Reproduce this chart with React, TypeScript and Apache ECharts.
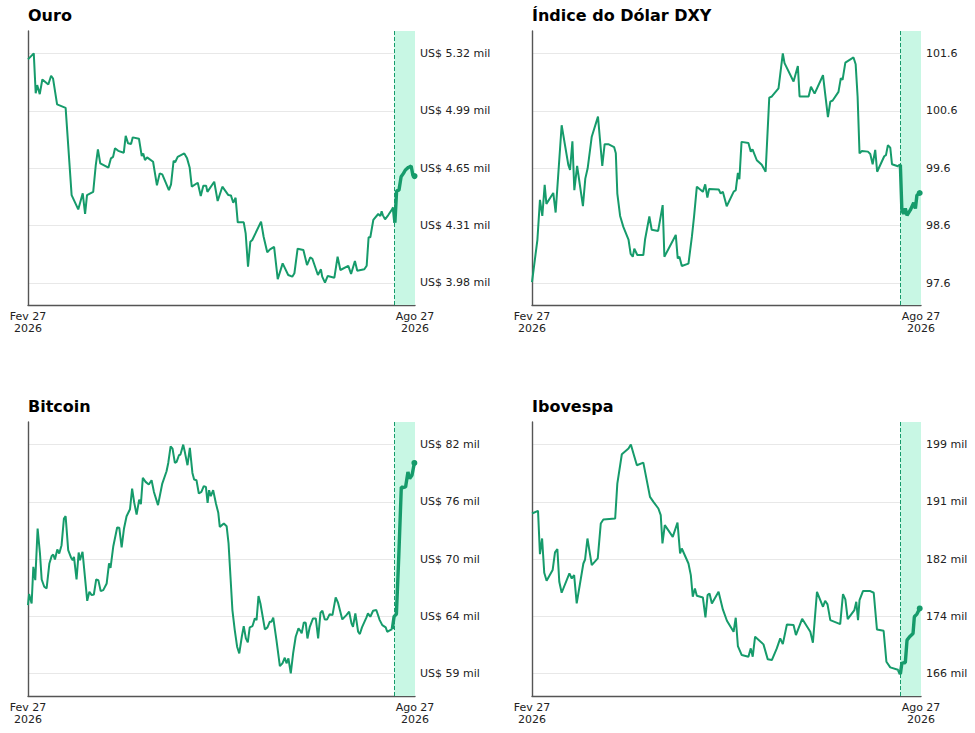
import React, { useEffect, useRef } from "react";
import * as echarts from "echarts";

// ---- shared x axis (days since Fev 27 2026) ----
const xTickDays = [0, 181];
const xTickLabels = ["Fev 27\n2026", "Ago 27\n2026"];
const highlightStartDay = 171.3;
const highlightEndDay = 181;

// ---- Ouro ----
const goldDays = [0,2.7,3.6,4.3,5.5,6.7,9.5,10.8,11.7,13.6,17.6,20.4,23.5,25.6,26.7,27.6,30.5,31.7,32.7,33.8,37.6,38.8,39.8,40.7,42.2,44.8,45.7,46.8,48.2,49.0,51.9,53.2,53.9,54.7,55.7,58.5,60.3,61.6,62.8,65.9,66.9,68.1,68.8,70.0,73.1,74.4,75.6,76.6,79.4,80.8,82.0,83.3,83.9,87.1,88.7,90.9,93.7,94.9,96.0,97.1,98.1,100.9,101.8,102.9,104.0,104.9,109.0,110.2,111.9,113.2,115.1,116.8,119.1,121.7,123.6,124.6,126.1,128.8,130.5,132.0,133.0,135.6,137.0,137.6,138.9,140.2,143.3,144.8,146.1,149.8,151.1,152.9,154.0,157.3,158.4,159.3,160.1,161.5,163.8,164.8,165.4,166.0,167.0,168.5,170.9];
const goldValues = [5288,5323,5089,5137,5084,5170,5141,5192,5176,5024,5004,4493,4409,4503,4382,4493,4512,4669,4761,4679,4653,4708,4717,4767,4752,4741,4840,4796,4792,4831,4823,4721,4737,4698,4714,4688,4550,4620,4614,4522,4556,4694,4685,4717,4737,4708,4655,4542,4565,4487,4548,4548,4512,4571,4458,4542,4493,4491,4448,4477,4333,4333,4269,4073,4220,4230,4337,4249,4158,4175,4190,4000,4093,4025,4015,4035,4179,4171,4083,4128,4120,4025,4058,4015,3980,4019,4009,4132,4054,4078,4031,4107,4050,4058,4079,4246,4246,4347,4382,4370,4398,4374,4351,4376,4421];
const goldRecentDays = [170.9,171.6,172.4,173.5,174.5,175.6,176.5,177.9,179.2,180.0,180.8];
const goldRecentValues = [4421,4331,4518,4522,4600,4620,4640,4655,4663,4610,4604];
const goldTicks = [3978, 4314, 4650, 4986, 5322];

// ---- Índice do Dólar DXY ----
const dxyDays = [0,2.5,3.7,4.8,5.9,6.7,9.9,11.0,13.8,15.5,16.9,17.7,18.8,19.7,21.0,23.7,24.8,25.9,27.8,30.7,32.7,33.8,35.5,38.2,39.0,39.7,41.0,42.5,44.9,45.9,46.9,47.6,49.0,51.8,52.6,54.6,55.7,58.7,60.8,61.6,66.9,67.8,68.6,69.7,72.8,74.4,75.4,76.7,79.5,80.6,81.6,82.4,86.9,87.8,88.8,90.6,93.8,94.8,95.8,96.5,97.5,100.7,101.8,102.6,104.6,106.9,108.7,110.4,111.6,114.7,116.7,117.5,121.7,123.7,124.5,128.7,129.8,131.5,135.4,136.4,137.7,138.8,139.9,142.6,143.7,144.5,145.8,149.6,150.6,151.5,152.4,153.5,156.3,157.4,158.5,159.7,160.6,163.9,164.7,165.6,166.7,167.5,170.6];
const dxyValues = [97.62,98.35,99.05,98.77,99.31,98.98,99.17,98.83,100.35,99.97,99.66,99.57,100.07,99.22,99.64,98.94,99.42,99.60,100.15,100.50,99.64,100.02,100.02,99.97,99.86,99.16,98.77,98.58,98.36,98.11,98.06,98.20,98.09,98.09,98.36,98.76,98.53,98.51,98.96,98.06,98.44,98.03,98.06,97.90,97.94,98.41,98.76,99.28,99.19,99.32,99.09,99.24,99.23,99.16,99.19,98.94,99.19,99.22,99.52,99.41,100.06,100.04,99.89,99.93,99.74,99.66,99.54,100.83,100.85,100.99,101.60,101.43,101.11,101.38,100.85,100.85,101.02,100.90,101.22,100.90,100.49,100.76,100.78,100.93,101.17,101.14,101.44,101.53,101.41,100.85,99.86,99.90,99.89,99.85,99.67,99.92,99.54,99.81,99.83,100.00,99.96,99.67,99.63];
const dxyRecentDays = [170.6,171.4,172.1,172.9,173.7,174.5,176.0,177.6,178.4,179.1,180.4];
const dxyRecentValues = [99.63,99.66,98.87,98.81,98.90,98.78,98.87,99.00,98.90,99.13,99.17];
const dxyTicks = [97.6, 98.6, 99.6, 100.6, 101.6];

// ---- Bitcoin ----
const btcDays = [0,0.5,1.7,2.5,3.4,4.5,5.6,6.4,7.6,8.7,10.0,11.1,11.8,12.6,13.7,14.6,15.7,16.8,17.6,18.8,20.1,20.9,21.5,22.7,23.7,24.3,25.5,27.7,28.7,29.8,30.8,31.9,32.9,34.0,35.2,36.8,37.9,38.6,39.9,41.7,42.7,43.8,44.9,46.1,47.7,48.7,49.7,50.8,52.0,52.8,53.7,55.0,56.5,57.8,58.9,60.8,62.8,64.8,65.6,66.7,67.6,68.7,69.5,70.6,71.3,72.6,73.5,74.6,75.7,76.9,77.7,78.8,79.9,81.1,82.2,83.2,84.0,84.7,85.5,86.6,87.9,89.0,89.7,91.6,92.9,93.8,94.7,95.6,96.7,97.8,98.8,100.0,100.9,101.9,102.8,103.7,105.0,106.1,106.9,107.8,108.7,110.8,112.0,113.1,113.9,114.7,116.2,117.8,119.0,120.1,120.9,121.8,122.9,124.0,125.2,126.5,127.4,128.0,129.0,129.9,130.7,131.8,133.3,134.6,135.7,136.8,137.7,138.8,139.9,141.1,142.4,143.9,145.0,147.0,148.9,150.2,151.3,152.0,153.1,154.4,155.2,156.2,158.3,159.0,160.1,161.4,162.9,164.5,165.7,167.3,168.0,169.4,170.4];
const btcValues = [65490,66590,65650,69330,67990,73180,70670,68060,67330,67160,69670,70430,70570,70070,71070,70670,71500,74180,74410,71000,70270,70000,70330,68060,70770,70000,70840,65920,66820,66490,66550,68060,67990,66890,66990,67660,69670,69230,71400,73280,73250,71270,73180,74410,75110,77190,75750,74580,76080,75620,78260,77860,77590,78020,76850,75520,77690,78930,79760,81430,81200,79760,79860,80530,80600,81600,80700,79530,81270,78760,78090,78020,76690,76850,77420,77360,75750,77020,76420,77020,75680,74750,73340,73680,73410,71670,68330,64990,62980,61310,60640,62310,63380,62140,61740,63250,63380,64150,63980,66390,65650,63050,63250,63820,63820,64220,61980,59370,59640,60200,59640,60140,58630,60640,62310,63150,62910,62650,63750,63710,62140,63310,64150,64150,62140,64720,64920,64050,64050,64580,64480,66260,65720,64050,64480,64820,63650,63310,64650,62810,62580,63250,64250,64650,64320,64920,64990,63980,63480,63250,62810,62980,63080];
const btcRecentDays = [170.4,171.2,172.3,173.4,174.6,175.4,176.6,177.7,178.5,179.6,180.7];
const btcRecentValues = [63080,64320,64580,70330,77350,77290,77350,78860,78190,78520,79760];
const btcTicks = [58600, 64350, 70100, 75850, 81600];

// ---- Ibovespa ----
const ibovDays = [0,2.8,3.7,4.7,5.7,6.8,9.6,10.7,11.8,12.7,13.8,17.4,18.5,19.6,20.8,23.9,24.7,25.8,27.8,30.6,32.0,33.2,38.7,39.7,41.8,44.9,46.0,47.2,48.8,51.8,54.9,56.5,58.8,59.9,60.7,61.8,65.5,67.7,68.9,69.7,72.8,73.9,74.8,75.8,76.7,79.5,80.7,81.7,82.6,83.7,86.8,88.8,90.7,93.8,94.8,95.8,97.6,100.7,101.8,102.7,103.8,107.7,109.7,111.6,113.9,115.5,116.7,118.6,121.7,122.8,125.7,129.5,130.7,132.6,135.4,136.4,137.5,138.8,143.4,144.7,145.8,146.9,150.0,150.9,151.7,152.4,154.0,157.4,159.0,160.5,163.6,164.9,166.7,170.6];
const ibovValues = [189010,189400,183120,185390,180420,179260,180810,183370,183850,179120,177530,180330,179600,180080,175980,181770,182350,185390,181530,182500,187560,188140,188290,193350,197600,198420,199000,197700,196010,196390,191420,190700,189740,188770,184670,187320,185630,187710,183220,183940,181770,180080,176950,178150,177090,176850,173960,177190,177430,175980,177670,175110,173470,171880,173910,169810,168500,168260,169470,168260,171160,170050,167880,167780,169470,170920,170090,172940,172850,171400,173760,171880,170290,177670,175500,176370,175840,173570,172990,177330,176560,173710,175020,176220,173570,176460,177770,177770,177530,172220,172020,167540,166720,166330];
const ibovRecentDays = [170.6,171.4,172.1,172.9,173.7,174.5,175.7,177.3,177.9,179.1,180.4];
const ibovRecentValues = [166330,165750,167300,167390,167390,170670,171160,171640,174050,174440,175260];
const ibovTicks = [165800, 174100, 182400, 190700, 199000];

const titles = ["Ouro", "Índice do Dólar DXY", "Bitcoin", "Ibovespa"];

const LINE = "#169b6b";
const FONT = "DejaVu Sans";

const zip = (xs: number[], ys: number[]) => xs.map((x, k) => [x, ys[k]]);

export default function App() {
  const ref = useRef<HTMLDivElement>(null);

  useEffect(() => {
    if (!ref.current) return;
    const chart = echarts.init(ref.current, undefined, { renderer: "svg" });

    const panels = [
      {
        days: goldDays, values: goldValues, rDays: goldRecentDays, rValues: goldRecentValues,
        ticks: goldTicks, min: 3849, max: 5454,
        fmt: (v: number) => `US$ ${(v / 1000).toFixed(2)} mil`,
        box: { left: 28, top: 31, width: 387, height: 274 }, titleTop: 7,
      },
      {
        days: dxyDays, values: dxyValues, rDays: dxyRecentDays, rValues: dxyRecentValues,
        ticks: dxyTicks, min: 97.22, max: 101.99,
        fmt: (v: number) => v.toFixed(1),
        box: { left: 532, top: 31, width: 389, height: 274 }, titleTop: 7,
      },
      {
        days: btcDays, values: btcValues, rDays: btcRecentDays, rValues: btcRecentValues,
        ticks: btcTicks, min: 56360, max: 83870,
        fmt: (v: number) => `US$ ${Math.round(v / 1000)} mil`,
        box: { left: 28, top: 422, width: 387, height: 274 }, titleTop: 398,
      },
      {
        days: ibovDays, values: ibovValues, rDays: ibovRecentDays, rValues: ibovRecentValues,
        ticks: ibovTicks, min: 162570, max: 202270,
        fmt: (v: number) => `${Math.round(v / 1000)} mil`,
        box: { left: 532, top: 422, width: 389, height: 274 }, titleTop: 398,
      },
    ];

    const option: any = {
      animation: false,
      textStyle: { fontFamily: FONT },
      title: panels.map((p, i) => ({
        text: titles[i],
        left: p.box.left,
        top: p.titleTop,
        padding: 0,
        textStyle: { fontFamily: FONT, fontSize: 16, fontWeight: "bold", color: "#000" },
      })),
      grid: panels.map((p) => ({ ...p.box, containLabel: false })),
      xAxis: panels.map((p, i) => ({
        type: "value",
        gridIndex: i,
        min: 0,
        max: 181,
        axisLine: { show: true, onZero: false, lineStyle: { color: "#555", width: 1.4 } },
        axisTick: { show: false, customValues: xTickDays },
        splitLine: { show: false },
        axisLabel: {
          customValues: xTickDays,
          formatter: (v: number) => {
            const k = xTickDays.indexOf(v);
            return k >= 0 ? xTickLabels[k] : "";
          },
          color: "#222",
          fontFamily: FONT,
          fontSize: 11,
          lineHeight: 12,
          margin: 5,
        },
      })),
      yAxis: [
        ...panels.map((p, i) => ({
          type: "value",
          gridIndex: i,
          position: "right",
          min: p.min,
          max: p.max,
          axisLine: { show: false },
          axisTick: { show: false, customValues: p.ticks },
          splitLine: { show: true, lineStyle: { color: "#e8e8e8", width: 1 } },
          axisLabel: {
            customValues: p.ticks,
            formatter: p.fmt,
            color: "#222",
            fontFamily: FONT,
            fontSize: 11,
            margin: 5,
          },
        })),
        ...panels.map((p, i) => ({
          type: "value",
          gridIndex: i,
          position: "left",
          min: p.min,
          max: p.max,
          axisLine: { show: true, lineStyle: { color: "#555", width: 1.4 } },
          axisTick: { show: false },
          splitLine: { show: false },
          axisLabel: { show: false },
        })),
      ],
      series: [
        ...panels.map((p, i) => ({
          type: "line",
          xAxisIndex: i,
          yAxisIndex: i,
          data: zip(p.days, p.values),
          showSymbol: false,
          symbol: "none",
          lineStyle: { color: LINE, width: 2 },
          itemStyle: { color: LINE },
          emphasis: { disabled: true },
          markArea: {
            silent: true,
            itemStyle: { color: "#c8f7e4" },
            data: [[{ xAxis: highlightStartDay }, { xAxis: highlightEndDay }]],
          },
          markLine: {
            silent: true,
            symbol: ["none", "none"],
            label: { show: false },
            lineStyle: { color: LINE, type: "dashed", width: 1 },
            data: [{ xAxis: highlightStartDay }],
          },
        })),
        ...panels.map((p, i) => {
          const pts = zip(p.rDays, p.rValues);
          return {
            type: "line",
            xAxisIndex: i,
            yAxisIndex: i,
            data: pts.map((pt, k) =>
              k === pts.length - 1
                ? { value: pt, symbol: "circle", symbolSize: 6 }
                : { value: pt }
            ),
            showSymbol: true,
            symbol: "none",
            lineStyle: { color: LINE, width: 3.4 },
            itemStyle: { color: LINE },
            emphasis: { disabled: true },
          };
        }),
      ],
    };

    chart.setOption(option);
    return () => chart.dispose();
  }, []);

  return (
    <div
      ref={ref}
      style={{ position: "absolute", left: 0, top: 0, width: 975, height: 733, background: "#fff" }}
    />
  );
}
